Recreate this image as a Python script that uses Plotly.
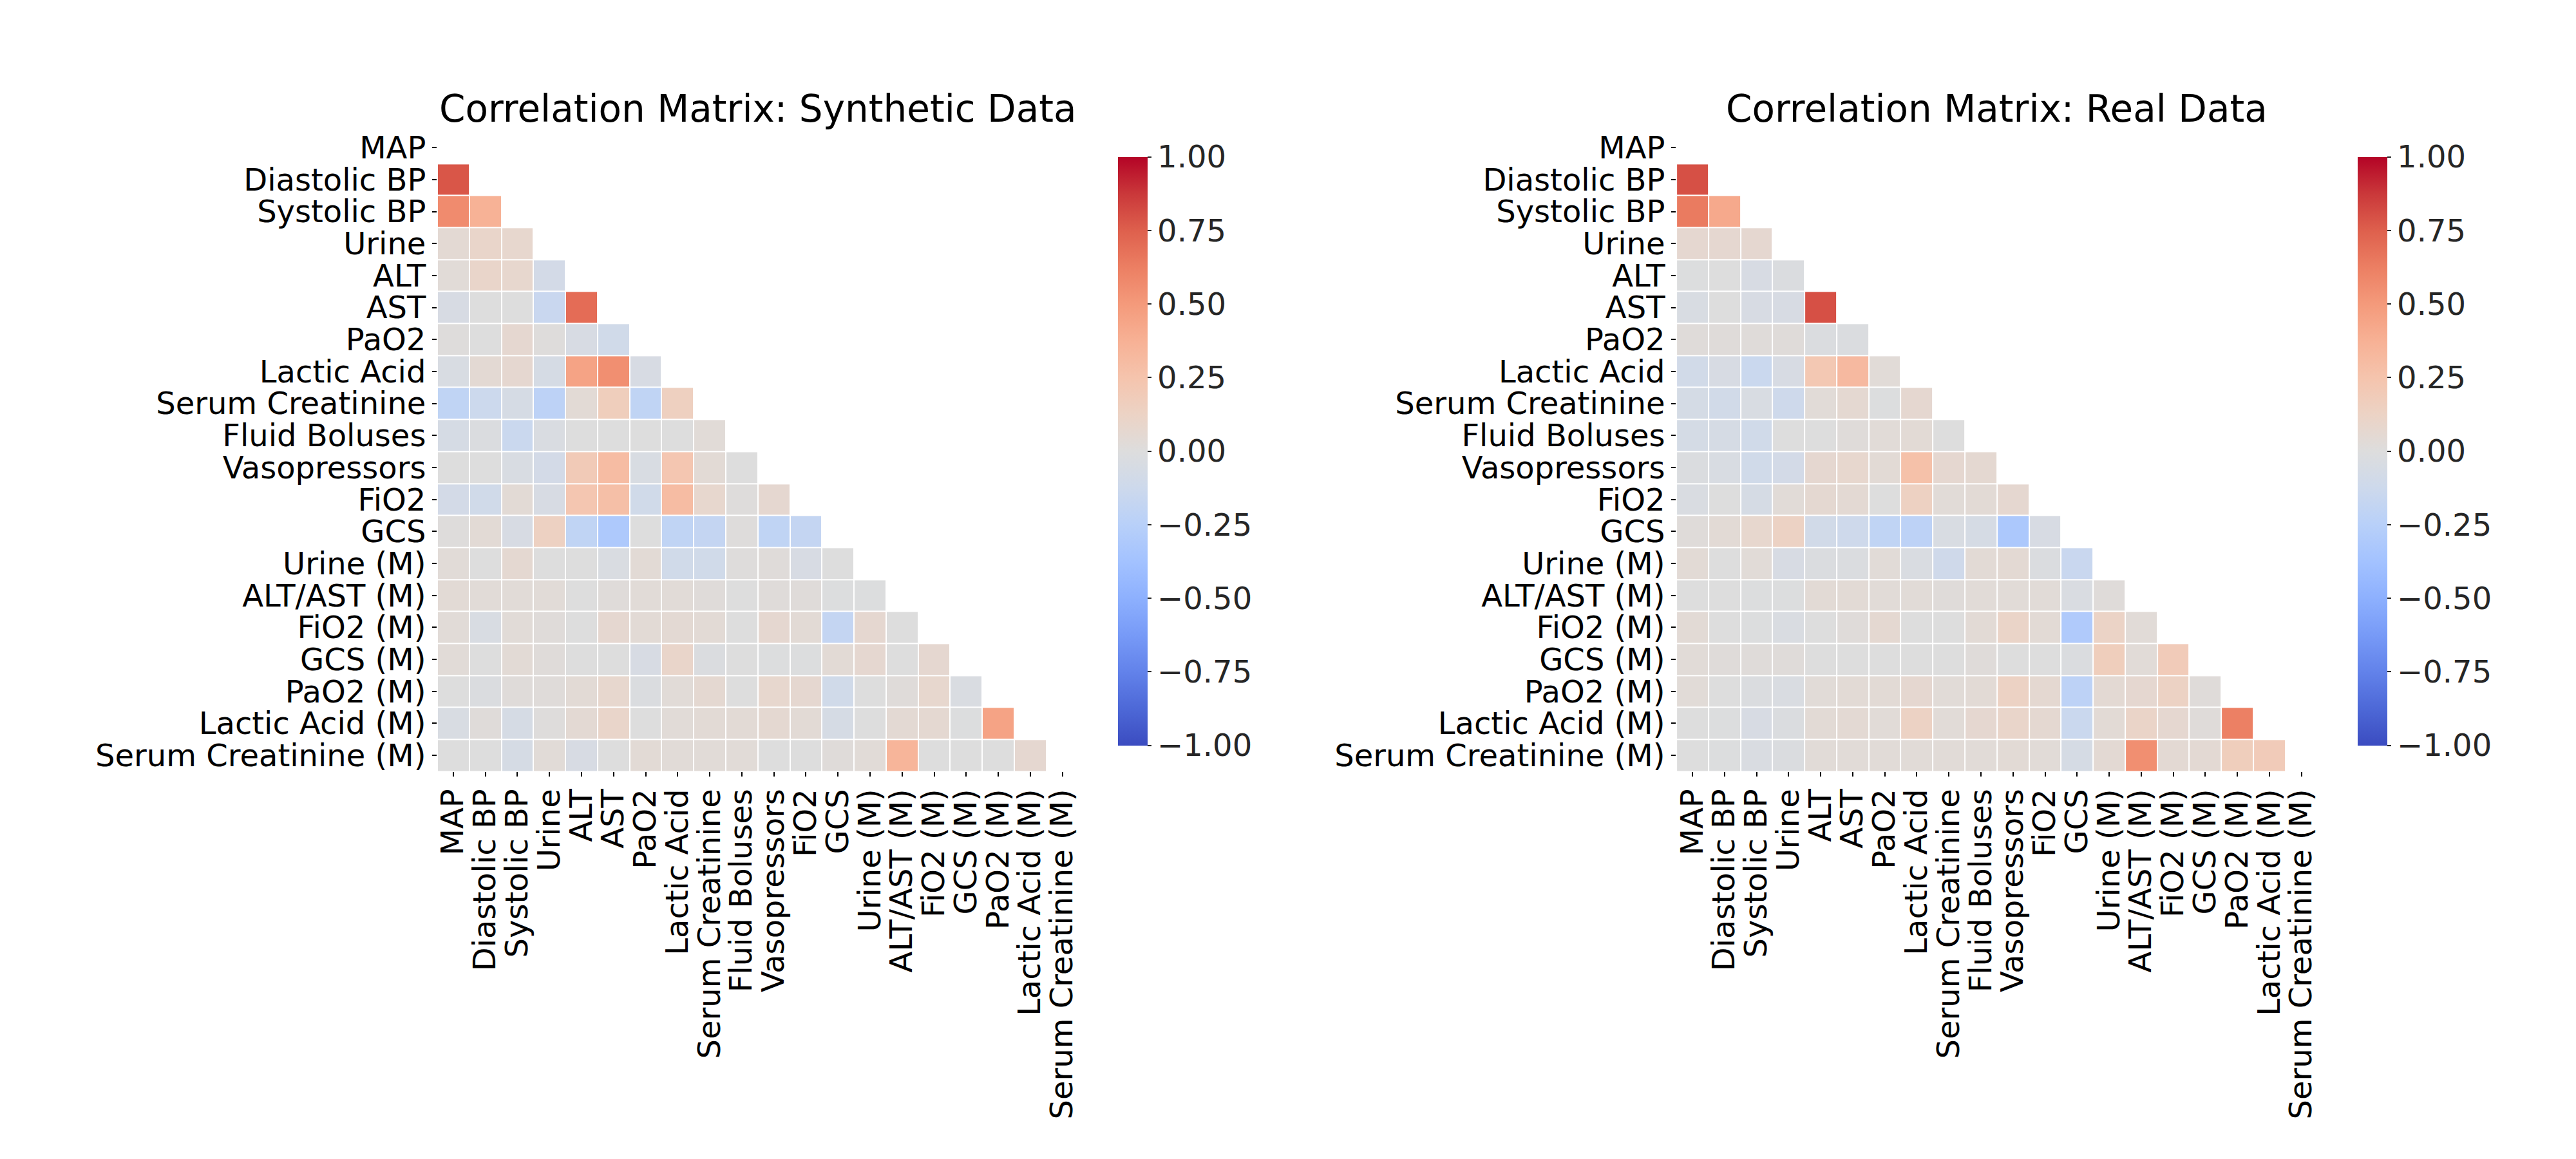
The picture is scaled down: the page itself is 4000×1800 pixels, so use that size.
import plotly.graph_objects as go

labels = ["MAP", "Diastolic BP", "Systolic BP", "Urine", "ALT", "AST", "PaO2",
          "Lactic Acid", "Serum Creatinine", "Fluid Boluses", "Vasopressors", "FiO2",
          "GCS", "Urine (M)", "ALT/AST (M)", "FiO2 (M)", "GCS (M)", "PaO2 (M)",
          "Lactic Acid (M)", "Serum Creatinine (M)"]

# lower triangle (row i holds correlations with columns 0..i-1)
synthetic_rows = [
    [],
    [0.78],
    [0.57, 0.37],
    [0.05, 0.10, 0.08],
    [0.03, 0.10, 0.08, -0.08],
    [-0.05, 0.00, 0.00, -0.15, 0.70],
    [0.01, 0.00, 0.07, 0.01, -0.05, -0.10],
    [-0.04, 0.05, 0.07, -0.06, 0.45, 0.55, -0.05],
    [-0.20, -0.13, -0.06, -0.22, 0.04, 0.17, -0.20, 0.15],
    [-0.06, -0.02, -0.14, -0.03, 0.00, 0.00, 0.00, 0.00, 0.03],
    [0.00, 0.00, -0.04, -0.08, 0.20, 0.30, -0.04, 0.23, 0.04, 0.00],
    [-0.08, -0.10, 0.04, -0.05, 0.23, 0.28, -0.10, 0.30, 0.08, 0.01, 0.07],
    [0.01, 0.04, -0.05, 0.14, -0.20, -0.31, 0.00, -0.20, -0.18, 0.01, -0.20, -0.18],
    [0.03, 0.00, 0.06, 0.00, 0.00, -0.03, 0.04, -0.10, -0.10, 0.01, 0.02, -0.05, 0.00],
    [0.04, 0.03, 0.03, 0.03, 0.00, 0.02, 0.03, 0.03, 0.02, 0.00, 0.02, 0.02, -0.01, -0.01],
    [0.03, -0.04, 0.03, 0.02, 0.00, 0.07, 0.04, 0.05, 0.04, 0.00, 0.07, 0.04, -0.18, 0.07, 0.00],
    [0.03, 0.00, 0.04, 0.02, 0.00, 0.00, -0.05, 0.10, -0.02, 0.00, -0.01, -0.01, 0.04, 0.07, 0.00, 0.07],
    [0.00, -0.02, 0.02, 0.02, 0.04, 0.08, -0.02, 0.03, 0.06, 0.00, 0.08, 0.07, -0.10, 0.00, 0.02, 0.08, -0.03],
    [-0.04, 0.02, -0.06, 0.01, 0.05, 0.10, 0.00, 0.03, 0.04, 0.04, 0.06, 0.04, -0.06, 0.00, 0.05, 0.06, -0.01, 0.45],
    [0.00, 0.00, -0.06, 0.03, -0.05, 0.00, 0.04, 0.03, 0.03, 0.03, 0.00, 0.00, 0.02, 0.03, 0.35, 0.00, 0.00, 0.00, 0.07],
]

real_rows = [
    [],
    [0.80],
    [0.64, 0.42],
    [0.07, 0.07, 0.07],
    [-0.01, 0.00, -0.05, -0.02],
    [-0.04, 0.00, -0.05, -0.05, 0.80],
    [0.02, 0.02, 0.02, 0.02, -0.02, -0.02],
    [-0.09, -0.05, -0.14, -0.05, 0.22, 0.32, 0.03],
    [-0.07, -0.09, -0.04, -0.12, 0.03, 0.06, -0.01, 0.07],
    [-0.07, -0.06, -0.10, 0.00, 0.00, 0.02, 0.03, 0.04, 0.00],
    [-0.02, -0.04, -0.10, -0.08, 0.07, 0.08, 0.04, 0.27, 0.07, 0.06],
    [-0.03, 0.00, -0.06, 0.03, 0.06, 0.05, 0.00, 0.14, 0.03, 0.04, 0.07],
    [0.02, 0.04, 0.08, 0.13, -0.09, -0.12, -0.20, -0.22, -0.04, -0.06, -0.32, -0.05],
    [0.04, 0.00, 0.03, -0.05, -0.02, -0.02, 0.03, -0.03, -0.11, 0.04, 0.05, -0.02, -0.15],
    [0.00, 0.00, -0.01, -0.01, 0.04, 0.04, 0.03, 0.03, 0.02, 0.03, 0.03, 0.03, -0.03, 0.02],
    [0.04, 0.00, -0.01, -0.03, 0.00, 0.02, 0.06, 0.00, 0.00, 0.04, 0.11, 0.04, -0.30, 0.12, 0.03],
    [0.03, 0.02, 0.02, 0.02, 0.00, 0.00, 0.00, 0.00, 0.00, 0.02, 0.00, 0.00, -0.02, 0.17, 0.03, 0.19],
    [0.03, 0.00, -0.02, -0.03, 0.03, 0.04, 0.04, 0.07, 0.03, 0.04, 0.13, 0.06, -0.22, 0.05, 0.07, 0.13, 0.02],
    [0.00, -0.01, -0.05, -0.02, 0.04, 0.05, 0.03, 0.13, 0.03, 0.07, 0.10, 0.06, -0.14, 0.04, 0.11, 0.07, 0.02, 0.62],
    [0.00, -0.01, -0.03, -0.02, 0.03, 0.03, 0.03, 0.03, 0.03, 0.03, 0.04, 0.03, -0.06, 0.05, 0.55, 0.05, 0.05, 0.17, 0.19],
]

titles = ["Correlation Matrix: Synthetic Data", "Correlation Matrix: Real Data"]

coolwarm = [
    [0.0, "rgb(59,76,192)"], [0.0625, "rgb(77,104,215)"], [0.125, "rgb(98,130,234)"],
    [0.1875, "rgb(119,154,247)"], [0.25, "rgb(141,176,254)"], [0.3125, "rgb(163,194,255)"],
    [0.375, "rgb(184,208,249)"], [0.4375, "rgb(205,217,236)"], [0.5, "rgb(221,221,221)"],
    [0.5625, "rgb(236,211,197)"], [0.625, "rgb(245,196,173)"], [0.6875, "rgb(247,177,149)"],
    [0.75, "rgb(244,154,123)"], [0.8125, "rgb(236,127,99)"], [0.875, "rgb(222,96,77)"],
    [0.9375, "rgb(202,56,58)"], [1.0, "rgb(180,4,38)"],
]

n = len(labels)


def full_matrix(rows):
    z = []
    for r in rows:
        z.append(list(r) + [None] * (n - len(r)))
    return z


# the page body has an 8px default margin; the figure starts at (8, 8)
OFF = 8
W, H = 4000 - OFF, 1800 - OFF
FONT = "DejaVu Sans"
cell = 49.85
heat_left = [676 - OFF, 2603 - OFF]
heat_top = 202 - OFF
heat_size = cell * n
cbar_left = [1735 - OFF, 3662 - OFF]
cbar_top, cbar_bot = 243 - OFF, 1157 - OFF
title_mid = 167 - OFF

fig = go.Figure()
for k, rows in enumerate([synthetic_rows, real_rows]):
    xa = "x" if k == 0 else "x2"
    ya = "y" if k == 0 else "y2"
    fig.add_trace(go.Heatmap(
        z=full_matrix(rows), x=labels, y=labels,
        xaxis=xa, yaxis=ya,
        colorscale=coolwarm, zmin=-1, zmax=1,
        xgap=2, ygap=2, hoverongaps=False,
        colorbar=dict(
            x=cbar_left[k] / W, xanchor="left", xpad=0, ypad=0,
            y=1 - (cbar_top + cbar_bot) / 2 / H, yanchor="middle",
            len=cbar_bot - cbar_top, lenmode="pixels",
            thickness=46, thicknessmode="pixels", outlinewidth=0,
            tickvals=[-1, -0.75, -0.5, -0.25, 0, 0.25, 0.5, 0.75, 1],
            tickformat=".2f", ticks="outside", ticklen=6, tickwidth=1.5,
            tickcolor="#262626",
            tickfont=dict(family=FONT, size=48, color="#262626"),
        ),
    ))

axis_common = dict(
    type="category", showgrid=False, zeroline=False, showline=False,
    tickmode="array", tickvals=labels, ticktext=labels,
    ticks="outside", ticklen=7, tickwidth=1.5, tickcolor="black",
    tickfont=dict(family=FONT, size=48, color="black"),
)

layout = dict(
    width=W, height=H, margin=dict(l=0, r=0, t=0, b=0),
    paper_bgcolor="white", plot_bgcolor="white",
    font=dict(family=FONT, color="black"),
)
for k in range(2):
    sx = "" if k == 0 else "2"
    x0 = heat_left[k] / W
    x1 = (heat_left[k] + heat_size) / W
    y1 = 1 - heat_top / H
    y0 = 1 - (heat_top + heat_size) / H
    layout["xaxis" + sx] = dict(axis_common, domain=[x0, x1], range=[-0.5, n - 0.5],
                               tickangle=-90, anchor="y" + sx)
    layout["yaxis" + sx] = dict(axis_common, domain=[y0, y1], range=[n - 0.5, -0.5],
                               anchor="x" + sx)

fig.update_layout(**layout)

for k in range(2):
    fig.add_annotation(
        text=titles[k], xref="paper", yref="paper",
        x=(heat_left[k] + heat_size / 2) / W, y=1 - title_mid / H,
        xanchor="center", yanchor="middle", showarrow=False,
        font=dict(family=FONT, size=58, color="black"),
    )

fig.write_html("out.html")
